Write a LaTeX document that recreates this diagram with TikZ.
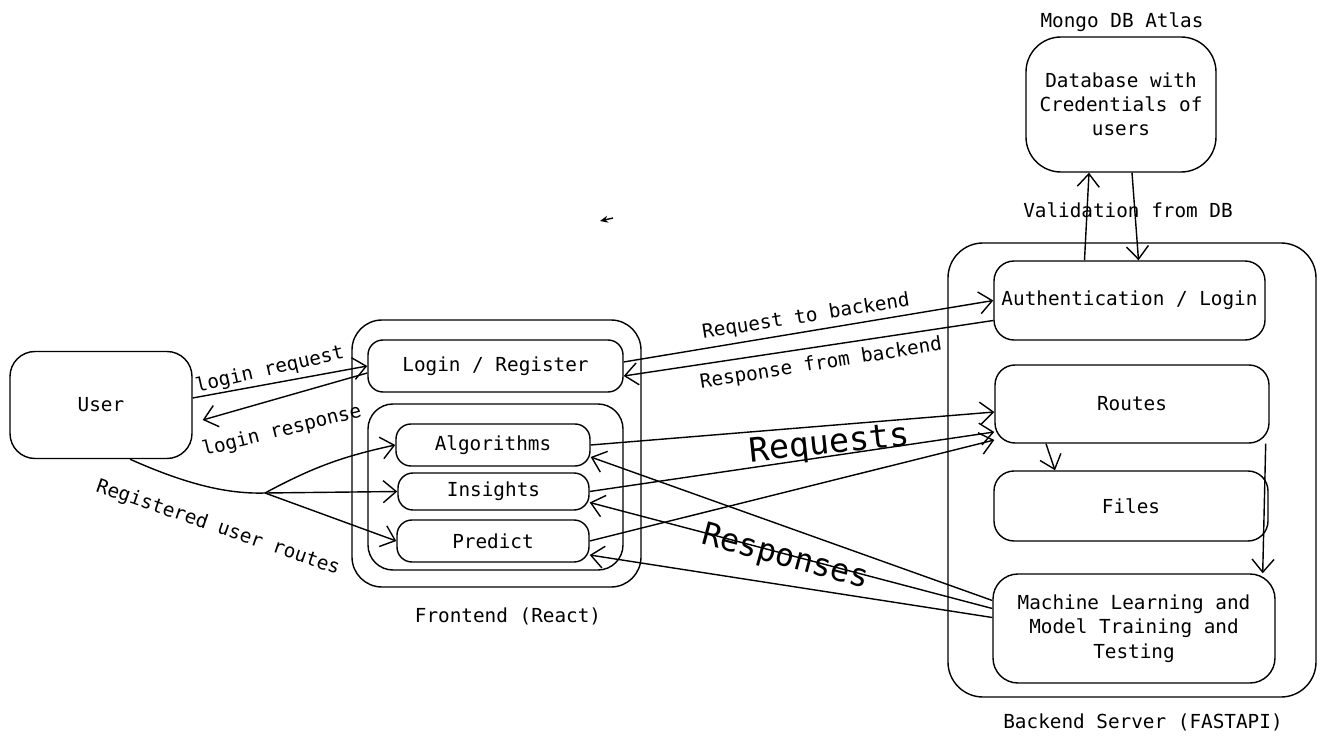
\documentclass[tikz,border=0pt]{standalone}
\usepackage{fontspec}
\setmainfont{DejaVu Sans Mono}
\usetikzlibrary{arrows.meta,positioning}

\begin{document}
\begin{tikzpicture}[x=0.2mm,y=-0.2mm,line width=0.8pt,
    >={Straight Barb[length=2.6mm,width=4.4mm]},
    box/.style={draw,rounded corners=3mm,inner sep=0pt,align=center,font=\fontsize{11}{13.8}\selectfont},
    lbl/.style={inner sep=1pt,font=\fontsize{11}{13.8}\selectfont},
    big/.style={inner sep=1pt,font=\fontsize{18}{20}\selectfont}]

    \useasboundingbox (0,0) rectangle (1326,746);

    % outer groups
    \node[box, rounded corners=6mm, minimum width=5.78cm, minimum height=5.34cm] (front) at (496.5,453.5) {};
    \node[box, rounded corners=5mm, minimum width=5.1cm, minimum height=3.32cm] (group) at (495.5,487) {};
    \node[box, rounded corners=7mm, minimum width=7.36cm, minimum height=9.08cm] (back) at (1132,470) {};

    \node[lbl] (frontlbl) at (508,616) {Frontend (React)};
    \node[lbl] (backlbl) at (1143,722) {Backend Server (FASTAPI)};
    \node[lbl] (dblbl) at (1122,22) {Mongo DB Atlas};

    % user and frontend
    \node[box, rounded corners=5mm, minimum width=3.64cm, minimum height=2.14cm] (user) at (101,405) {User};
    \node[box, minimum width=5.1cm, minimum height=1.04cm] (login) at (495.5,366) {Login / Register};
    \node[box, minimum width=3.88cm, minimum height=0.84cm] (alg) at (493,445) {Algorithms};
    \node[box, minimum width=3.82cm, minimum height=0.74cm] (ins) at (493.5,491.5) {Insights};
    \node[box, minimum width=3.84cm, minimum height=0.84cm] (pred) at (493,541) {Predict};

    % backend and database
    \node[box, rounded corners=4mm, minimum width=5.42cm, minimum height=1.58cm] (auth) at (1129.5,300.5) {Authentication / Login};
    \node[box, rounded corners=4mm, minimum width=5.48cm, minimum height=1.56cm] (routes) at (1132,404) {Routes};
    \node[box, rounded corners=4mm, minimum width=5.48cm, minimum height=1.4cm] (files) at (1131,506) {Files};
    \node[box, rounded corners=5mm, minimum width=5.64cm, minimum height=2.18cm] (ml) at (1134,628.5) {Machine Learning and\\Model Training and\\Testing};
    \node[box, rounded corners=7mm, minimum width=3.8cm, minimum height=2.7cm] (db) at (1121,104.5) {Database with\\Credentials of\\users};

    % login flow
    \draw[->] ([yshift=1.4mm]user.east) -- (login.west);
    \draw[->] ([yshift=-1.4mm]login.west) -- ([shift={(2mm,-3mm)}]user.east);
    \node[lbl, rotate=13] (reqlbl) at (270,370) {login request};
    \node[lbl, rotate=14] (reslbl) at (282,431) {login response};

    % registered routes
    \coordinate (fork) at (265,493);
    \draw ([xshift=5.8mm]user.south) .. controls (190,486) and (230,494) .. (fork);
    \draw[->] (fork) to[bend left=8] (alg.west);
    \draw[->] (fork) -- (ins.west);
    \draw[->] (fork) -- (pred.west);
    \node[lbl, rotate=-19] (reglbl) at (218,528) {Registered user routes};

    % frontend <-> backend
    \draw[->] ([yshift=0.8mm]login.east) -- (auth.west);
    \draw[->] ([yshift=-4mm]auth.west) -- ([yshift=-2mm]login.east);
    \node[lbl, rotate=9] (tobackend) at (806,317) {Request to backend};
    \node[lbl, rotate=9] (frombackend) at (821,364) {Response from backend};

    \draw[->] (alg.east) -- ([yshift=-1.6mm]routes.west);
    \draw[->] (ins.east) -- ([yshift=-5.6mm]routes.west);
    \draw[->] (pred.east) -- ([yshift=-7.2mm]routes.west);
    \node[big, rotate=6, font=\fontsize{19}{21}\selectfont] (requests) at (830,445) {Requests};

    \draw[->] ([yshift=5.6mm]ml.west) -- ([yshift=-2.4mm]alg.east);
    \draw[->] ([yshift=4mm]ml.west) -- ([yshift=-2.2mm]ins.east);
    \draw[->] ([yshift=2.2mm]ml.west) -- ([yshift=-2.8mm]pred.east);
    \node[big, rotate=-15] (responses) at (785,558) {Responses};

    % database validation
    \draw[->] ([xshift=-9mm]auth.north) -- ([xshift=-6.4mm]db.south);
    \draw[->] ([xshift=2.2mm]db.south) -- ([xshift=1.8mm]auth.north);
    \node[lbl] (vallbl) at (1128,210) {Validation from DB};

    % inside backend
    \draw[->] ([xshift=-17.2mm]routes.south) -- ([xshift=-15.2mm]files.north);
    \draw[->] ([xshift=-0.8mm]routes.south east) -- ([xshift=-2.6mm]ml.north east);

    % stray arrow
    \coordinate (s1) at (613,218);
    \coordinate (s2) at (600,221);
    \draw[-{Stealth[length=1.6mm,width=1.4mm]}] (s1) -- (s2);
\end{tikzpicture}
\end{document}
